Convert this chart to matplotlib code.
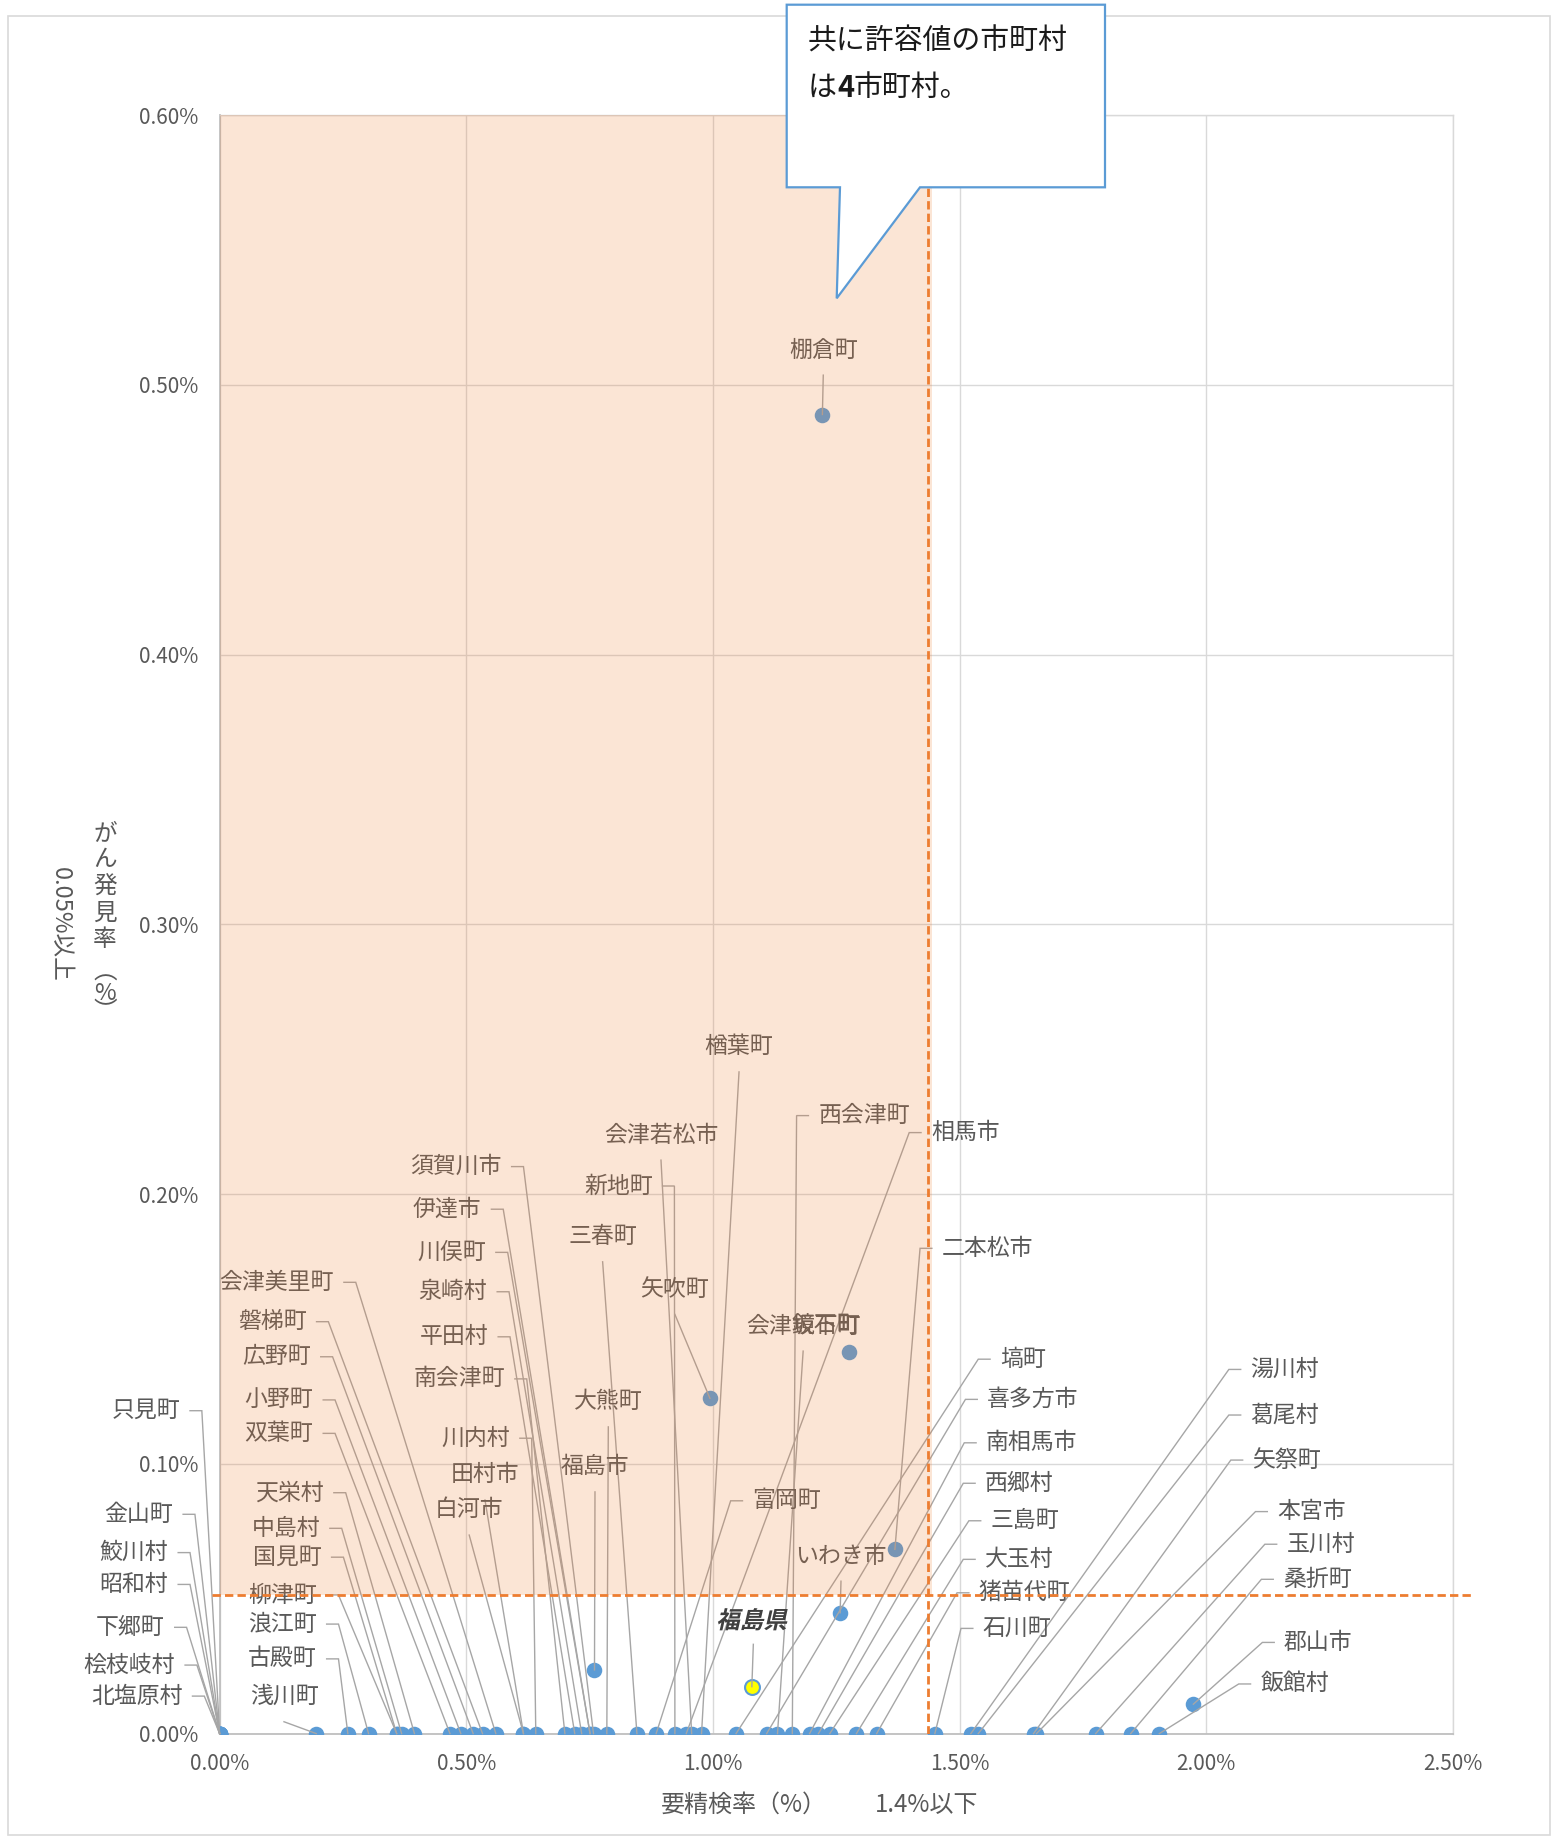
import numpy as np
import matplotlib
matplotlib.use('Agg')
import matplotlib.pyplot as plt
import matplotlib.transforms as mtransforms
from matplotlib.patches import Rectangle, Polygon, PathPatch
from matplotlib.textpath import TextPath
from matplotlib.font_manager import FontProperties

plt.rcParams['font.family'] = ['Noto Sans CJK JP', 'DejaVu Sans']

# ---- data: 要精検率(%) と がん発見率(%) ----
names = ['只見町', '金山町', '鮫川村', '昭和村', '下郷町', '桧枝岐村', '北塩原村',
         '浅川町', '古殿町', '浪江町', '柳津町', '国見町', '中島村', '天栄村',
         '双葉町', '小野町', '広野町', '磐梯町', '会津美里町',
         '白河市', '田村市', '川内村', '南会津町', '平田村', '泉崎村', '川俣町',
         '伊達市', '須賀川市', '福島市', '大熊町', '三春町', '富岡町', '新地町',
         '相馬市', '会津若松市', '楢葉町', '矢吹町', '塙町', '喜多方市', '会津坂下町',
         '西会津町', '南相馬市', '西郷村', '棚倉町', '三島町', 'いわき市', '鏡石町',
         '大玉村', '猪苗代町', '二本松市', '石川町', '湯川村', '葛尾村', '矢祭町',
         '本宮市', '玉川村', '桑折町', '飯館村', '郡山市']
x_rate = [0, 0, 0, 0, 0, 0, 0,
          0.196, 0.260, 0.302, 0.359, 0.359, 0.369, 0.395,
          0.467, 0.489, 0.514, 0.533, 0.560,
          0.616, 0.616, 0.641, 0.700, 0.720, 0.734, 0.751,
          0.751, 0.758, 0.760, 0.785, 0.846, 0.885, 0.923,
          0.946, 0.957, 0.977, 0.994, 1.047, 1.109, 1.131,
          1.161, 1.196, 1.214, 1.222, 1.237, 1.258, 1.275,
          1.291, 1.332, 1.369, 1.450, 1.523, 1.538, 1.650,
          1.656, 1.776, 1.847, 1.905, 1.974]
y_rate = [0, 0, 0, 0, 0, 0, 0,
          0, 0, 0, 0, 0, 0, 0,
          0, 0, 0, 0, 0,
          0, 0, 0, 0, 0, 0, 0,
          0, 0, 0.0236, 0, 0, 0, 0,
          0, 0, 0, 0.1243, 0, 0, 0,
          0, 0, 0, 0.489, 0, 0.0448, 0.1416,
          0, 0, 0.0683, 0, 0, 0, 0,
          0, 0, 0, 0, 0.0109]
pref_name = '福島県'
pref_x, pref_y = 1.079, 0.0174
x_limit = 1.437     # 要精検率 許容線
y_limit = 0.0514    # がん発見率 許容線

# ---- label layout (kind, x, y) ----
# L: text left of leader, R: text right of leader, B: text above point, N: no leader
LAB = {
    '只見町': ('L', -0.080, 0.1197), '金山町': ('L', -0.094, 0.0813),
    '鮫川村': ('L', -0.104, 0.0671), '昭和村': ('L', -0.104, 0.0553),
    '下郷町': ('L', -0.111, 0.0394), '桧枝岐村': ('L', -0.090, 0.0254),
    '北塩原村': ('L', -0.075, 0.0139),
    '浅川町': ('B', 0.1305, 0.0137), '古殿町': ('L', 0.197, 0.0277),
    '浪江町': ('L', 0.197, 0.0406), '柳津町': ('L', 0.197, 0.0514),
    '国見町': ('L', 0.207, 0.0654), '中島村': ('L', 0.2035, 0.0761),
    '天栄村': ('L', 0.2116, 0.0893), '双葉町': ('L', 0.190, 0.1113),
    '小野町': ('L', 0.190, 0.1237), '広野町': ('L', 0.185, 0.1397),
    '磐梯町': ('L', 0.1765, 0.1527), '会津美里町': ('L', 0.232, 0.1673),
    '白河市': ('B', 0.506, 0.0829), '田村市': ('B', 0.538, 0.0959),
    '川内村': ('L', 0.5887, 0.1095), '南会津町': ('L', 0.5786, 0.1315),
    '平田村': ('L', 0.5447, 0.1471), '泉崎村': ('L', 0.5427, 0.1638),
    '川俣町': ('L', 0.540, 0.1784), '伊達市': ('L', 0.531, 0.1944),
    '須賀川市': ('L', 0.572, 0.2102), '福島市': ('B', 0.761, 0.0989),
    '大熊町': ('B', 0.788, 0.123), '三春町': ('B', 0.7765, 0.1842),
    '富岡町': ('R', 1.080, 0.0863), '新地町': ('L', 0.878, 0.203),
    '相馬市': ('R', 1.442, 0.2228), '会津若松市': ('B', 0.8948, 0.2219),
    '楢葉町': ('B', 1.053, 0.2546), '矢吹町': ('B', 0.923, 0.1647),
    '塙町': ('R', 1.582, 0.1388), '喜多方市': ('R', 1.556, 0.1239),
    '会津坂下町': ('B', 1.183, 0.1511), '西会津町': ('R', 1.2137, 0.2291),
    '南相馬市': ('R', 1.5536, 0.1078), '西郷村': ('R', 1.5516, 0.0928),
    '棚倉町': ('B', 1.2238, 0.5129), '三島町': ('R', 1.563, 0.0789),
    'いわき市': ('B', 1.2597, 0.0658), '鏡石町': ('N', 1.2287, 0.1511),
    '大玉村': ('R', 1.5516, 0.0646), '猪苗代町': ('R', 1.539, 0.0522),
    '二本松市': ('R', 1.464, 0.1799), '石川町': ('R', 1.547, 0.039),
    '湯川村': ('R', 2.090, 0.135), '葛尾村': ('R', 2.090, 0.1181),
    '矢祭町': ('R', 2.094, 0.1014), '本宮市': ('R', 2.144, 0.0823),
    '玉川村': ('R', 2.163, 0.0702), '桑折町': ('R', 2.156, 0.0572),
    '飯館村': ('R', 2.110, 0.0184), '郡山市': ('R', 2.158, 0.0338),
}
G, D, OFF = 0.020, 0.024, 0.0093

BLUE = '#5B9BD5'; ORANGE = '#ED7D31'; TXT = '#595959'; LEAD = '#a6a6a6'; GRID = '#d9d9d9'
W, H = 1555, 1841
fx = lambda px: px / W
fy = lambda py: 1 - py / H

fig = plt.figure(figsize=(W / 100, H / 100), dpi=100, facecolor='white')
ax = fig.add_axes([fx(219.6), fy(1733.6), fx(1452.8) - fx(219.6), fy(115.1) - fy(1733.6)])

# outer chart border
fig.add_artist(Rectangle((fx(8), fy(1835)), fx(1550) - fx(8), fy(16) - fy(1835),
                         transform=fig.transFigure, fill=False, ec=GRID, lw=1.2))

ax.set_xticks(np.arange(0, 2.51, 0.5))
ax.set_xticklabels([f'{v:.2f}%' for v in np.arange(0, 2.51, 0.5)])
ax.set_yticks(np.arange(0, 0.61, 0.1))
ax.set_yticklabels([f'{v:.2f}%' for v in np.arange(0, 0.61, 0.1)])
ax.tick_params(length=0, labelsize=15, labelcolor=TXT)
ax.tick_params(axis='y', pad=15)
ax.tick_params(axis='x', pad=14)
ax.grid(True, color=GRID, lw=1.0)
ax.set_axisbelow(True)
for side, sp in ax.spines.items():
    sp.set_color(GRID if side in ('top', 'right') else '#bfbfbf')
    sp.set_linewidth(1.0 if side in ('top', 'right') else 1.3)

ax.scatter(x_rate, y_rate, s=125, c=BLUE, linewidths=0, zorder=3)
ax.scatter([pref_x], [pref_y], s=115, c='#FFFF00', edgecolors=BLUE, linewidths=1.5, zorder=3)

for name, x, y in zip(names, x_rate, y_rate):
    kind, lx, ly = LAB[name]
    if kind == 'L':
        ax.text(lx, ly, name, ha='right', va='center', fontsize=16.5, color=TXT, zorder=5)
        xs, ys = [lx + G, lx + G + D, x], [ly, ly, y]
    elif kind == 'R':
        ax.text(lx, ly, name, ha='left', va='center', fontsize=16.5, color=TXT, zorder=5)
        xs, ys = [lx - G, lx - G - D, x], [ly, ly, y]
    elif kind == 'B':
        ax.text(lx, ly, name, ha='center', va='center', fontsize=16.5, color=TXT, zorder=5)
        xs, ys = [lx, x], [ly - OFF, y]
    else:
        ax.text(lx, ly, name, ha='center', va='center', fontsize=16.5, color=TXT, zorder=5)
        continue
    ax.plot(xs, ys, color=LEAD, lw=1.0, zorder=4, clip_on=False, solid_joinstyle='miter')

# 福島県: bold, slanted
fp_b = FontProperties(family='Noto Sans CJK JP', weight='bold')
tp = TextPath((0, 0), pref_name, size=17, prop=fp_b)
ext = tp.get_extents()
tr = (mtransforms.Affine2D().translate(-(ext.x0 + ext.x1) / 2, -(ext.y0 + ext.y1) / 2)
      .skew_deg(13, 0).scale(1 / 72) + fig.dpi_scale_trans
      + mtransforms.ScaledTranslation(1.082, 0.0424, ax.transData))
ax.add_patch(PathPatch(tp, transform=tr, fc='#404040', ec='none', zorder=5, clip_on=False))
ax.plot([1.082, pref_x], [0.0424 - OFF, pref_y], color=LEAD, lw=1.0, zorder=4)

# 許容範囲
ax.add_patch(Rectangle((0, y_limit), 1.445, 0.6 - y_limit, fc=ORANGE, alpha=0.2, lw=0, zorder=6))
ax.plot([x_limit, x_limit], [0, 0.6], color=ORANGE, lw=2, dashes=(3, 1.5), zorder=7)
ax.plot([-0.016, 2.538], [y_limit, y_limit], color=ORANGE, lw=2, dashes=(3, 1.5), zorder=7, clip_on=False)

ax.set_xlim(0, 2.5)
ax.set_ylim(0, 0.6)

# axis titles
fig.text(fx(661), fy(1805), '要精検率（%）', fontsize=17.3, color=TXT, ha='left', va='center')
fig.text(fx(875), fy(1805), '1.4%以下', fontsize=17.3, color=TXT, ha='left', va='center')
for ch, py in [('が', 835), ('ん', 860), ('発', 887), ('見', 913), ('率', 940),
               ('︵', 973), ('%', 994), ('︶', 1012)]:
    fig.text(fx(105), fy(py), ch, fontsize=17, color=TXT, ha='center', va='center')
fig.text(fx(60), fy(924), '0.05%以上', fontsize=17, color=TXT, rotation=270,
         ha='center', va='center')

# callout
pts = [(786.7, 4.7), (1105, 4.7), (1105, 187.3), (920, 187.3), (836.7, 298.3),
       (840, 187.3), (786.7, 187.3)]
fig.add_artist(Polygon([(fx(a), fy(b)) for a, b in pts], closed=True, transform=fig.transFigure,
                       fc='white', ec=BLUE, lw=1.6, zorder=10))
fig.text(fx(808), fy(42), '共に許容値の市町村', fontsize=20.8, color='#1a1a1a',
         ha='left', va='center', zorder=11)
r = fig.canvas.get_renderer()
xc = fx(808)
for s, wgt in [('は', 'normal'), ('4', 'bold'), ('市町村。', 'normal')]:
    t = fig.text(xc, fy(88), s, fontsize=20.8, fontweight=wgt, color='#1a1a1a',
                 ha='left', va='center', zorder=11)
    xc = t.get_window_extent(r).x1 / W

fig.savefig('out.png', dpi=100, facecolor='white')
